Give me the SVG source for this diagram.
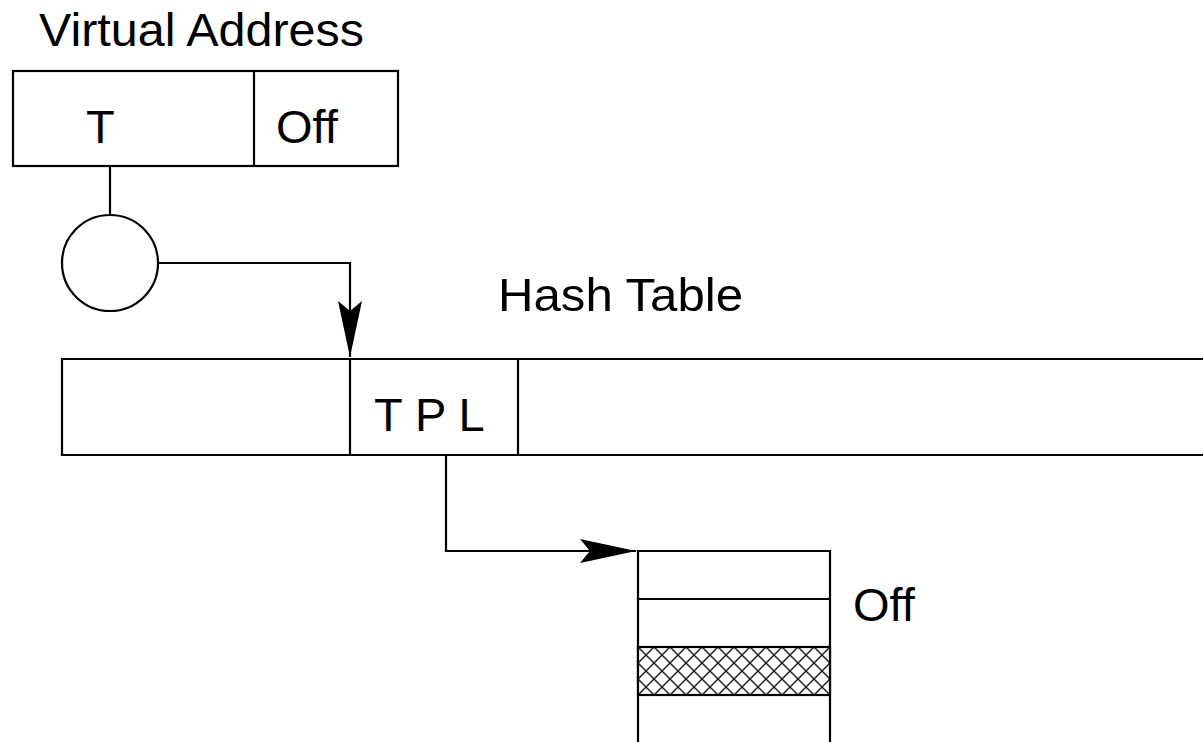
<svg xmlns="http://www.w3.org/2000/svg" width="1203" height="742" viewBox="0 0 1203 742">
  <style>
    .ln { fill: none; stroke: #000; stroke-width: 2.2; }
    .bx { fill: #fff; stroke: #000; stroke-width: 2.2; }
    .tx { font-family: "Liberation Sans", Arial, sans-serif; fill: #000; font-size: 47px; }
  </style>
  <defs>
    <marker id="arr" markerUnits="userSpaceOnUse" markerWidth="60" markerHeight="26" refX="56" refY="12" orient="auto" viewBox="0 0 60 26">
      <path d="M0,0 L56,12 L0,24 L10,12 Z" fill="#000"/>
    </marker>
    <pattern id="hatch" patternUnits="userSpaceOnUse" width="16" height="16" x="638" y="647">
      <rect width="16" height="16" fill="#fff"/>
      <path d="M0,0 L16,16 M16,0 L0,16" stroke="#222" stroke-width="1.5"/>
    </pattern>
  </defs>
  <rect width="1203" height="742" fill="#fff"/>

  <text class="tx" x="39" y="46" textLength="325" lengthAdjust="spacingAndGlyphs">Virtual Address</text>
  <text class="tx" x="498" y="311" textLength="245" lengthAdjust="spacingAndGlyphs">Hash Table</text>

  <g id="connectors">
    <line class="ln" x1="110" y1="166" x2="110" y2="215"/>
    <path class="ln" d="M158,263 L350,263 L350,357" marker-end="url(#arr)"/>
    <path class="ln" d="M446,455 L446,551 L636,551" marker-end="url(#arr)"/>
  </g>

  <g id="virtual-address">
    <rect class="bx" x="13" y="71" width="385" height="95"/>
    <line class="ln" x1="254" y1="71" x2="254" y2="166"/>
    <text class="tx" x="86" y="143">T</text>
    <text class="tx" x="276" y="143">Off</text>
  </g>

  <g id="hash">
    <circle class="bx" cx="110" cy="263" r="48"/>
  </g>

  <g id="hash-table">
    <path class="ln" d="M1205,359 L62,359 L62,455 L1205,455"/>
    <line class="ln" x1="350" y1="359" x2="350" y2="455"/>
    <line class="ln" x1="518" y1="359" x2="518" y2="455"/>
    <text class="tx" x="374" y="431">T P L</text>
  </g>

  <g id="page">
    <path class="ln" d="M638,745 L638,551 L830,551 L830,745"/>
    <line class="ln" x1="638" y1="599" x2="830" y2="599"/>
    <rect x="638" y="647" width="192" height="48" fill="url(#hatch)" stroke="#000" stroke-width="2.2"/>
    <text class="tx" x="853" y="621">Off</text>
  </g>
</svg>
